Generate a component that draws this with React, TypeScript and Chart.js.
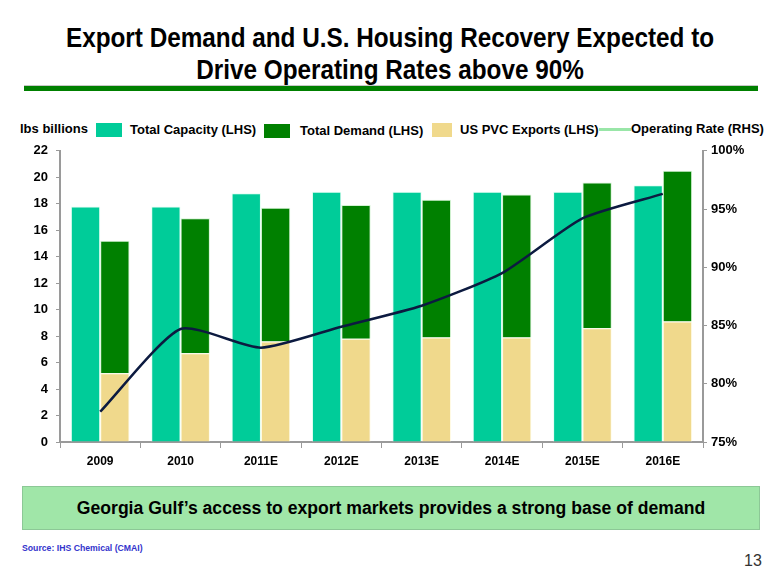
import React, { useEffect, useRef } from "react";
import { Chart, registerables } from "chart.js";

Chart.register(...registerables);

const categories = ["2009", "2010", "2011E", "2012E", "2013E", "2014E", "2015E", "2016E"];
const totalCapacity = [17.8, 17.8, 18.8, 18.9, 18.9, 18.9, 18.9, 19.4];
const totalDemand = [15.2, 16.9, 17.7, 17.9, 18.3, 18.7, 19.6, 20.5];
const usPvcExports = [5.2, 6.7, 7.6, 7.8, 7.9, 7.9, 8.6, 9.1];
const operatingRate = [77.6, 84.7, 83.1, 84.9, 86.7, 89.5, 94.2, 96.3];
const leftTicks = { min: 0, max: 22, step: 2 };
const rightTicks = { min: 75, max: 100, step: 5 };

const FONT = "'Liberation Sans', Arial, Helvetica, sans-serif";
const C_CAP = "#00cc99";
const C_DEM = "#008000";
const C_EXP = "#f0d98c";
const C_LINE = "#0c1a40";
const C_AXIS = "#9a9a9a";

export default function App() {
  const ref = useRef<HTMLCanvasElement | null>(null);

  useEffect(() => {
    if (!ref.current) return;
    const demandAboveExports = totalDemand.map((d, i) => +(d - usPvcExports[i]).toFixed(2));
    const chart = new Chart(ref.current, {
      type: "bar",
      data: {
        labels: categories,
        datasets: [
          {
            type: "line",
            label: "Operating Rate (RHS)",
            data: operatingRate,
            yAxisID: "y1",
            borderColor: C_LINE,
            borderWidth: 2.5,
            pointRadius: 0,
            tension: 0.2,
            order: 0,
          } as any,
          {
            label: "Total Capacity (LHS)",
            data: totalCapacity,
            backgroundColor: C_CAP,
            borderColor: "rgba(220,255,240,0.8)",
            borderWidth: 1,
            stack: "cap",
            yAxisID: "y",
            order: 1,
          },
          {
            label: "US PVC Exports (LHS)",
            data: usPvcExports,
            backgroundColor: C_EXP,
            borderColor: "rgba(255,250,225,0.8)",
            borderWidth: 1,
            stack: "dem",
            yAxisID: "y",
            order: 1,
          },
          {
            label: "Total Demand (LHS)",
            data: demandAboveExports,
            backgroundColor: C_DEM,
            borderColor: "rgba(200,240,200,0.8)",
            borderWidth: 1,
            stack: "dem",
            yAxisID: "y",
            order: 1,
          },
        ],
      },
      options: {
        responsive: false,
        animation: false,
        layout: { padding: { top: 5, left: 0, right: 0, bottom: 0 } },
        datasets: {
          bar: { categoryPercentage: 0.73, barPercentage: 1.0 },
        },
        plugins: {
          legend: { display: false },
          tooltip: { enabled: false },
          title: { display: false },
        },
        scales: {
          x: {
            stacked: true,
            offset: true,
            grid: {
              offset: true,
              drawOnChartArea: false,
              drawTicks: true,
              tickLength: 6,
              color: C_AXIS,
            },
            border: { display: true, color: C_AXIS, width: 2 },
            ticks: {
              color: "#000",
              font: { family: FONT, size: 12, weight: "bold" },
              padding: 6,
              maxRotation: 0,
            },
            afterFit: (s: any) => {
              s.height = 38;
            },
          },
          y: {
            position: "left",
            stacked: true,
            min: leftTicks.min,
            max: leftTicks.max,
            grid: {
              drawOnChartArea: false,
              drawTicks: true,
              tickLength: 4,
              color: C_AXIS,
            },
            border: { display: true, color: C_AXIS, width: 2 },
            ticks: {
              stepSize: leftTicks.step,
              color: "#000",
              font: { family: FONT, size: 13, weight: "bold" },
              padding: 8,
            },
            afterFit: (s: any) => {
              s.width = 60;
            },
          },
          y1: {
            position: "right",
            min: rightTicks.min,
            max: rightTicks.max,
            grid: {
              drawOnChartArea: false,
              drawTicks: true,
              tickLength: 4,
              color: C_AXIS,
            },
            border: { display: true, color: C_AXIS, width: 2 },
            ticks: {
              stepSize: rightTicks.step,
              color: "#000",
              font: { family: FONT, size: 13, weight: "bold" },
              padding: 4,
              callback: (v: any) => `${v}%`,
            },
            afterFit: (s: any) => {
              s.width = 77;
            },
          },
        },
      },
    });
    return () => chart.destroy();
  }, []);

  const txt: React.CSSProperties = {
    position: "absolute",
    fontFamily: FONT,
    fontWeight: "bold",
    fontSize: 13,
    color: "#000",
    whiteSpace: "nowrap",
    lineHeight: "16px",
  };

  return (
    <div
      style={{
        position: "absolute",
        left: 0,
        top: 0,
        width: 780,
        height: 585,
        background: "#fff",
        overflow: "hidden",
        fontFamily: FONT,
      }}
    >
      <div
        style={{
          position: "absolute",
          left: 0,
          top: 22,
          width: 780,
          textAlign: "center",
          fontFamily: FONT,
          fontWeight: "bold",
          fontSize: 27,
          lineHeight: "32px",
          color: "#000",
          transform: "scaleX(0.9)",
          transformOrigin: "390px 0",
        }}
      >
        <div>Export Demand and U.S. Housing Recovery Expected to</div>
        <div>Drive Operating Rates above 90%</div>
      </div>
      <div
        style={{
          position: "absolute",
          left: 24,
          top: 85,
          width: 734,
          height: 1,
          background: "#c8c8c8",
        }}
      />
      <div
        style={{
          position: "absolute",
          left: 24,
          top: 86,
          width: 734,
          height: 5,
          background: "#008000",
        }}
      />

      <div style={{ ...txt, left: 20, top: 121 }}>lbs billions</div>
      <div style={{ position: "absolute", left: 96, top: 123, width: 26, height: 14, background: C_CAP }} />
      <div style={{ ...txt, left: 130, top: 122 }}>Total Capacity (LHS)</div>
      <div style={{ position: "absolute", left: 264, top: 124, width: 26, height: 14, background: C_DEM }} />
      <div style={{ ...txt, left: 300, top: 123 }}>Total Demand (LHS)</div>
      <div style={{ position: "absolute", left: 432, top: 123, width: 20, height: 14, background: C_EXP }} />
      <div style={{ ...txt, left: 460, top: 122 }}>US PVC Exports (LHS)</div>
      <div style={{ position: "absolute", left: 599, top: 128, width: 32, height: 3, background: "#99e6a8" }} />
      <div style={{ ...txt, left: 631, top: 121 }}>Operating Rate (RHS)</div>

      <canvas
        ref={ref}
        width={780}
        height={345}
        style={{ position: "absolute", left: 0, top: 135, width: 780, height: 345 }}
      />

      <div
        style={{
          position: "absolute",
          left: 22,
          top: 486,
          width: 736,
          height: 42,
          background: "#a0e6a8",
          border: "1px solid #8cc896",
          display: "flex",
          alignItems: "center",
          justifyContent: "center",
          fontFamily: FONT,
          fontWeight: "bold",
          fontSize: 17.6,
          color: "#000",
        }}
      >
        Georgia Gulf’s access to export markets provides a strong base of demand
      </div>
      <div
        style={{
          position: "absolute",
          left: 22,
          top: 543,
          fontFamily: FONT,
          fontWeight: "bold",
          fontSize: 8.7,
          color: "#3333cc",
          whiteSpace: "nowrap",
        }}
      >
        Source: IHS Chemical (CMAI)
      </div>
      <div
        style={{
          position: "absolute",
          left: 744,
          top: 552,
          fontFamily: FONT,
          fontSize: 16,
          color: "#333",
        }}
      >
        13
      </div>
    </div>
  );
}
